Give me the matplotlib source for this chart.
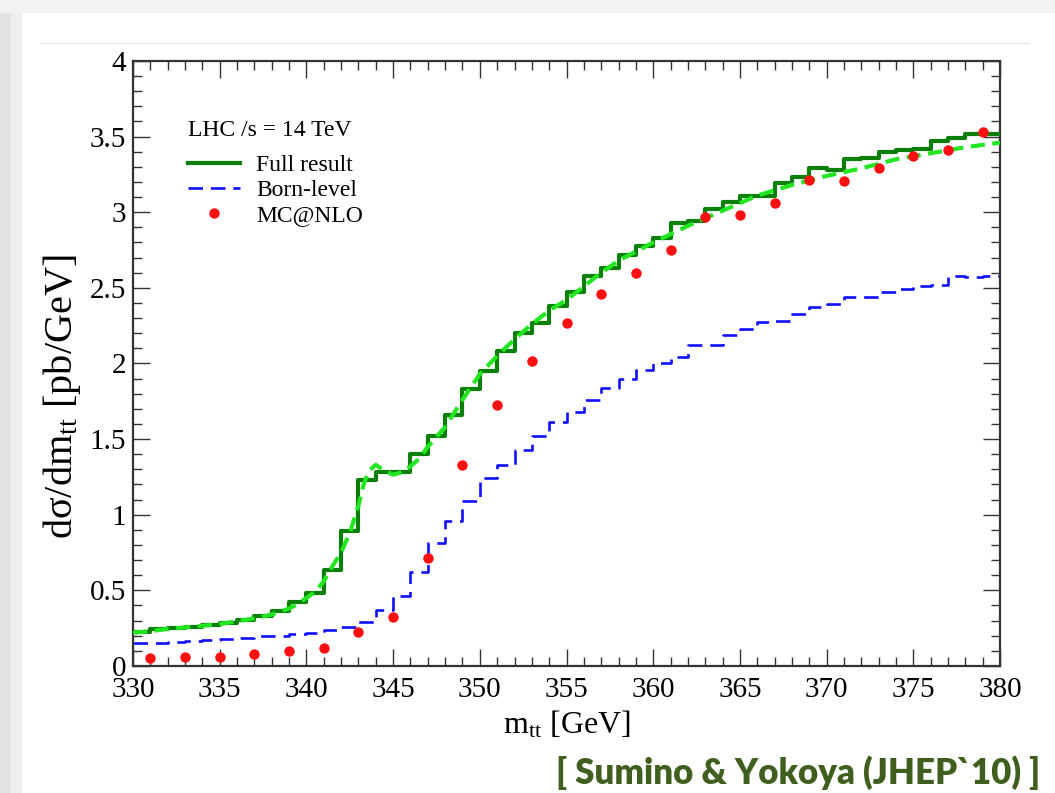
import numpy as np
import matplotlib
matplotlib.use("Agg")
from matplotlib import pyplot as plt
from matplotlib.lines import Line2D
from matplotlib.patches import Rectangle
from matplotlib.ticker import MultipleLocator

plt.rcParams['font.family'] = ['Liberation Serif', 'DejaVu Serif']
plt.rcParams['mathtext.fontset'] = 'custom'
plt.rcParams['mathtext.rm'] = 'Liberation Serif'
plt.rcParams['mathtext.it'] = 'Liberation Serif:italic'

#-----------------------Data-----------------------#

# 1 GeV bins in m_tt, lower edges 330 ... 379
bin_edges = np.arange(330, 381)

# Full result (NLO + threshold resummation), pb/GeV per bin
full_result = [0.227, 0.243, 0.250, 0.260, 0.270, 0.282, 0.304, 0.330, 0.364, 0.425,
               0.485, 0.635, 0.895, 1.230, 1.280, 1.280, 1.400, 1.520, 1.660, 1.830,
               1.950, 2.080, 2.200, 2.270, 2.380, 2.475, 2.580, 2.630, 2.720, 2.780,
               2.830, 2.930, 2.940, 3.020, 3.070, 3.110, 3.110, 3.190, 3.235, 3.295,
               3.280, 3.350, 3.360, 3.395, 3.410, 3.420, 3.470, 3.490, 3.520, 3.515]

# Born-level prediction per bin
born_level = [0.150, 0.150, 0.160, 0.165, 0.170, 0.176, 0.185, 0.195, 0.198, 0.214,
              0.218, 0.240, 0.255, 0.290, 0.370, 0.465, 0.620, 0.810, 0.960, 1.090,
              1.240, 1.330, 1.430, 1.520, 1.610, 1.680, 1.760, 1.840, 1.900, 1.960,
              2.005, 2.040, 2.120, 2.120, 2.190, 2.230, 2.275, 2.280, 2.330, 2.375,
              2.390, 2.440, 2.440, 2.475, 2.490, 2.510, 2.520, 2.580, 2.575, 2.580]

# MC@NLO points at bin centres of 2 GeV bins
mcnlo_mass = np.arange(331, 380, 2)
mcnlo_xsec = [0.050, 0.057, 0.057, 0.079, 0.099, 0.121, 0.223, 0.326, 0.712, 1.329,
              1.726, 2.017, 2.270, 2.460, 2.600, 2.750, 2.966, 2.980, 3.060, 3.210,
              3.207, 3.290, 3.374, 3.410, 3.533]

# smooth (unbinned) full result
smooth_mass = [330, 331, 332, 333, 334, 335, 336, 337, 338, 339, 339.5, 340, 340.5,
               341, 341.5, 342, 342.5, 343, 343.3, 343.6, 344, 344.5, 345, 345.5,
               346, 346.5, 347, 348, 349, 350, 351, 352, 353, 354, 355, 356, 357,
               358, 359, 360, 362, 364, 366, 368, 370, 372, 374, 376, 378, 380]
smooth_xsec = [0.220, 0.230, 0.245, 0.255, 0.265, 0.278, 0.295, 0.315, 0.340, 0.380,
               0.410, 0.450, 0.490, 0.560, 0.660, 0.750, 0.880, 1.060, 1.200, 1.290,
               1.330, 1.290, 1.265, 1.280, 1.320, 1.370, 1.450, 1.580, 1.760, 1.930,
               2.050, 2.160, 2.260, 2.350, 2.420, 2.510, 2.600, 2.680, 2.740, 2.800,
               2.910, 3.010, 3.110, 3.180, 3.240, 3.290, 3.350, 3.390, 3.430, 3.460]

#-----------------------Plot-----------------------#

fig = plt.figure(figsize=(10.55, 7.93), dpi=100)
fig.patch.set_facecolor('white')

# slide-style border
fig.patches.append(Rectangle((0, 0), 0.010, 1, transform=fig.transFigure,
                             color='#e2e2e2', zorder=-5))
fig.patches.append(Rectangle((0.010, 0), 0.010, 1, transform=fig.transFigure,
                             color='#efefef', zorder=-5))
fig.patches.append(Rectangle((0, 0.985), 1, 0.015, transform=fig.transFigure,
                             color='#f2f2f2', zorder=-5))
fig.lines.append(Line2D([0.038, 0.975], [0.946, 0.946], transform=fig.transFigure,
                        color='#e6e6e6', lw=1))

ax = fig.add_axes([0.1261, 0.1602, 0.8218, 0.7629])

born_dash = (0, (5.5, 3.0))
ax.step(bin_edges, born_level + [born_level[-1]], where='post', color='#1010ff',
        lw=1.9, linestyle=born_dash, zorder=2)
ax.step(bin_edges, full_result + [full_result[-1]], where='post', color='#0a800a',
        lw=3.0, zorder=3)
ax.plot(smooth_mass, smooth_xsec, color='#22e622', lw=3.0,
        linestyle=(0, (3.4, 1.8)), zorder=4)
ax.plot(mcnlo_mass, mcnlo_xsec, 'o', color='#ff1010', ms=7.5, mec='none',
        zorder=5, clip_on=False)

ax.set_xlim(330, 380)
ax.set_ylim(0, 4)
ax.xaxis.set_major_locator(MultipleLocator(5))
ax.xaxis.set_minor_locator(MultipleLocator(1))
ax.yaxis.set_major_locator(MultipleLocator(0.5))
ax.yaxis.set_minor_locator(MultipleLocator(0.1))
ax.yaxis.set_major_formatter(matplotlib.ticker.FuncFormatter(lambda v, p: f'{v:g}'))

ax.tick_params(which='both', direction='in', top=True, right=True,
               width=1.0, color='#333333', labelsize=21)
ax.tick_params(axis='x', pad=8)
ax.tick_params(axis='y', pad=5)
ax.tick_params(which='major', length=12)
ax.tick_params(which='minor', length=6.5)
for spine in ax.spines.values():
    spine.set_linewidth(1.6)
    spine.set_color('#333333')

ax.set_xlabel(r'm$_{\mathrm{tt}}$ [GeV]', fontsize=23, labelpad=4)
ax.set_ylabel(r'dσ/dm$_{\mathrm{tt}}$ [pb/GeV]', fontsize=29)
ax.yaxis.set_label_coords(-0.058, 0.445)

handles = [Line2D([], [], color='#0a800a', lw=3.0),
           Line2D([], [], color='#1010ff', lw=1.9, linestyle=born_dash),
           Line2D([], [], color='#ff1010', marker='o', ms=7.5, mec='none', lw=0)]
leg = ax.legend(handles, ['Full result', 'Born-level', 'MC@NLO'],
                title='LHC /s = 14 TeV', title_fontsize=17, fontsize=17,
                loc='upper left', bbox_to_anchor=(0.0634, 0.903), frameon=False,
                borderpad=0, borderaxespad=0, handlelength=2.2, handletextpad=0.7,
                labelspacing=0.15, alignment='left')
leg._legend_box.sep = 10

fig.text(0.986, 0.025, '[ Sumino & Yokoya (JHEP`10) ]', ha='right', va='center',
         fontsize=25, fontweight='heavy', color='#3f5f1f', family='Lato')

fig.savefig('out.png', dpi=100, facecolor=fig.get_facecolor())
